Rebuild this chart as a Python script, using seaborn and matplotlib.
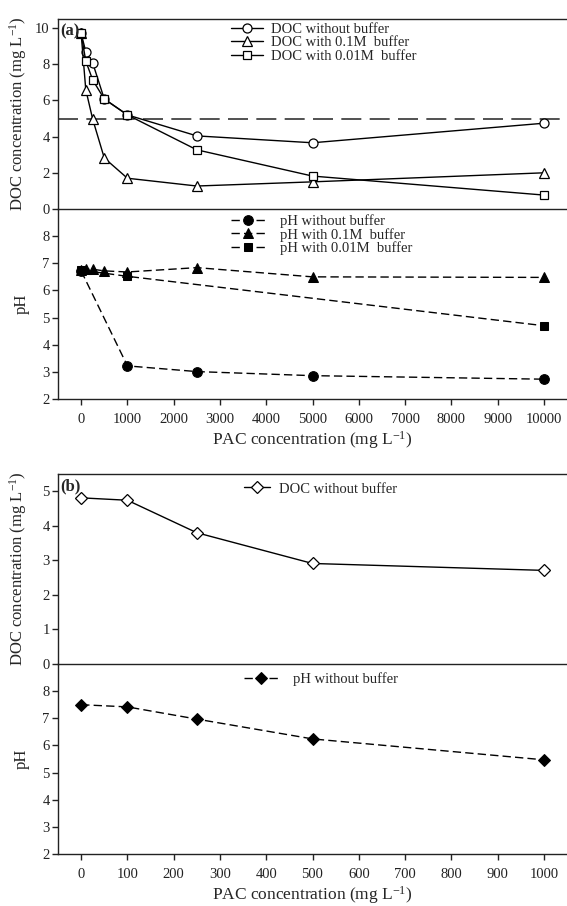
import matplotlib
matplotlib.use("Agg")
import matplotlib.pyplot as plt
import seaborn as sns
import numpy as np
import pandas as pd

# ---------------- data ----------------
pac_a = [0, 100, 250, 500, 1000, 2500, 5000, 10000]
doc_nobuf = [9.7, 8.7, 8.07, 6.08, 5.2, 4.04, 3.66, 4.74]
doc_01M = [9.7, 6.6, 4.96, 2.82, 1.7, 1.27, 1.5, 2.0]
doc_001M = [9.7, 8.18, 7.13, 6.08, 5.2, 3.27, 1.82, 0.77]
doc_ref = 4.95

pac_ph_nobuf = [0, 1000, 2500, 5000, 10000]
ph_nobuf = [6.72, 3.22, 3.01, 2.86, 2.73]
pac_ph_01M = [0, 100, 250, 500, 1000, 2500, 5000, 10000]
ph_01M = [6.75, 6.78, 6.78, 6.72, 6.68, 6.84, 6.5, 6.48]
pac_ph_001M = [0, 1000, 10000]
ph_001M = [6.75, 6.52, 4.7]

pac_b = [0, 100, 250, 500, 1000]
doc_b = [4.81, 4.74, 3.8, 2.91, 2.71]
ph_b = [7.5, 7.42, 6.97, 6.24, 5.47]

xticks_a = list(range(0, 10001, 1000))
xticks_b = list(range(0, 1001, 100))

# ---------------- style ----------------
sns.set_theme(style="white")
plt.rcParams['font.family'] = ['Liberation Serif', 'DejaVu Serif']
plt.rcParams['mathtext.fontset'] = 'custom'
plt.rcParams['mathtext.rm'] = 'Liberation Serif'
plt.rcParams['mathtext.default'] = 'regular'
plt.rcParams['axes.linewidth'] = 1.0

W, H = 567, 906
fig = plt.figure(figsize=(W / 100, H / 100), dpi=100)

def frac_axes(top, bottom, left=58, right=567):
    return fig.add_axes([left / W, 1 - bottom / H, (right - left) / W, (bottom - top) / H])

ax_a2 = frac_axes(209, 399)
ax_a1 = frac_axes(19, 209)
ax_b2 = frac_axes(664, 854)
ax_b1 = frac_axes(474, 664)

TICK_FS = 10.5
LAB_FS = 12.5
YLAB_FS = 12
LEG_FS = 10.5
col = 'black'
ms = 6.5
dash_ph = (6, 3)
DOC_LABEL = 'DOC concentration (mg L$^{-1}$)'
PAC_LABEL = 'PAC concentration (mg L$^{-1}$)'
YLAB_X = -0.056

def style_axes(ax, show_x):
    ax.set_facecolor('none')
    for s in ['left', 'bottom', 'top']:
        ax.spines[s].set_visible(True)
        ax.spines[s].set_color('#222222')
        ax.spines[s].set_linewidth(1.0)
    ax.spines['right'].set_visible(False)
    ax.tick_params(axis='y', which='both', left=True, direction='out', length=4,
                   width=1, labelsize=TICK_FS, colors='#222222', pad=2)
    ax.tick_params(axis='x', which='both', bottom=show_x, direction='out', length=4,
                   width=1, labelsize=TICK_FS, colors='#222222', labelbottom=show_x, pad=6)
    ax.grid(False)

# ---- panel (a) DOC ----
ax = ax_a1
ax.axhline(doc_ref, color='#333333', lw=1.2, ls=(0, (12, 5)), zorder=1)
sns.lineplot(x=pac_a, y=doc_nobuf, ax=ax, color=col, lw=1, marker='o', markersize=ms,
             markerfacecolor='white', markeredgecolor=col, markeredgewidth=0.9,
             label='DOC without buffer', sort=False)
sns.lineplot(x=pac_a, y=doc_01M, ax=ax, color=col, lw=1, marker='^', markersize=ms + 0.5,
             markerfacecolor='white', markeredgecolor=col, markeredgewidth=0.9,
             label='DOC with 0.1M  buffer', sort=False)
sns.lineplot(x=pac_a, y=doc_001M, ax=ax, color=col, lw=1, marker='s', markersize=ms - 0.5,
             markerfacecolor='white', markeredgecolor=col, markeredgewidth=0.9,
             label='DOC with 0.01M  buffer', sort=False)
ax.set_xlim(-500, 10500)
ax.set_ylim(0, 10.5)
ax.set_yticks([0, 2, 4, 6, 8, 10])
ax.set_xticks(xticks_a)
style_axes(ax, False)
ax.set_xlabel('')
ax.set_ylabel(DOC_LABEL, fontsize=YLAB_FS)
ax.yaxis.set_label_coords(YLAB_X, 0.5)
ax.legend(loc='upper left', bbox_to_anchor=(0.322, 1.025), frameon=False, fontsize=LEG_FS,
          handlelength=2.2, handletextpad=0.55, labelspacing=0.0, borderaxespad=0.2)
ax.text(0.004, 0.975, '(a)', transform=ax.transAxes, fontsize=12, fontweight='bold',
        va='top', ha='left')

# ---- panel (a) pH ----
ax = ax_a2
sns.lineplot(x=pac_ph_nobuf, y=ph_nobuf, ax=ax, color=col, lw=1, marker='o', markersize=ms + 0.5,
             markeredgecolor=col, label='pH without buffer', sort=False)
sns.lineplot(x=pac_ph_01M, y=ph_01M, ax=ax, color=col, lw=1, marker='^', markersize=ms + 0.5,
             markeredgecolor=col, label='pH with 0.1M  buffer', sort=False)
sns.lineplot(x=pac_ph_001M, y=ph_001M, ax=ax, color=col, lw=1, marker='s', markersize=ms - 0.5,
             markeredgecolor=col, label='pH with 0.01M  buffer', sort=False)
for ln in ax.get_lines():
    ln.set_dashes(dash_ph)
ax.set_xlim(-500, 10500)
ax.set_ylim(2, 9)
ax.set_yticks([2, 3, 4, 5, 6, 7, 8])
ax.set_xticks(xticks_a)
style_axes(ax, True)
ax.spines['top'].set_visible(False)
ax.set_xlabel(PAC_LABEL, fontsize=LAB_FS, labelpad=2)
ax.set_ylabel('pH', fontsize=YLAB_FS)
ax.yaxis.set_label_coords(YLAB_X, 0.5)
leg = ax.legend(loc='upper left', bbox_to_anchor=(0.322, 1.02), frameon=False, fontsize=LEG_FS,
                handlelength=2.4, handletextpad=1.0, labelspacing=0.0, borderaxespad=0.2)
for h in leg.get_lines():
    h.set_dashes(dash_ph)

# ---- panel (b) DOC ----
ax = ax_b1
sns.lineplot(x=pac_b, y=doc_b, ax=ax, color=col, lw=1, marker='D', markersize=ms - 0.5,
             markerfacecolor='white', markeredgecolor=col, markeredgewidth=0.9,
             label='DOC without buffer', sort=False)
ax.set_xlim(-50, 1050)
ax.set_ylim(0, 5.5)
ax.set_yticks([0, 1, 2, 3, 4, 5])
ax.set_xticks(xticks_b)
style_axes(ax, False)
ax.set_xlabel('')
ax.set_ylabel(DOC_LABEL, fontsize=YLAB_FS)
ax.yaxis.set_label_coords(YLAB_X, 0.5)
ax.legend(loc='upper left', bbox_to_anchor=(0.345, 1.01), frameon=False, fontsize=LEG_FS,
          handlelength=1.8, handletextpad=0.6, borderaxespad=0.3)
ax.text(0.004, 0.975, '(b)', transform=ax.transAxes, fontsize=12, fontweight='bold',
        va='top', ha='left')

# ---- panel (b) pH ----
ax = ax_b2
sns.lineplot(x=pac_b, y=ph_b, ax=ax, color=col, lw=1, marker='D', markersize=ms,
             markeredgecolor=col, label='pH without buffer', sort=False)
for ln in ax.get_lines():
    ln.set_dashes(dash_ph)
ax.set_xlim(-50, 1050)
ax.set_ylim(2, 9)
ax.set_yticks([2, 3, 4, 5, 6, 7, 8])
ax.set_xticks(xticks_b)
style_axes(ax, True)
ax.spines['top'].set_visible(False)
ax.set_xlabel(PAC_LABEL, fontsize=LAB_FS, labelpad=2)
ax.set_ylabel('pH', fontsize=YLAB_FS)
ax.yaxis.set_label_coords(YLAB_X, 0.5)
leg = ax.legend(loc='upper left', bbox_to_anchor=(0.345, 1.01), frameon=False, fontsize=LEG_FS,
                handlelength=2.4, handletextpad=1.0, borderaxespad=0.3)
for h in leg.get_lines():
    h.set_dashes(dash_ph)

fig.savefig('out.png', dpi=100, facecolor='white')
